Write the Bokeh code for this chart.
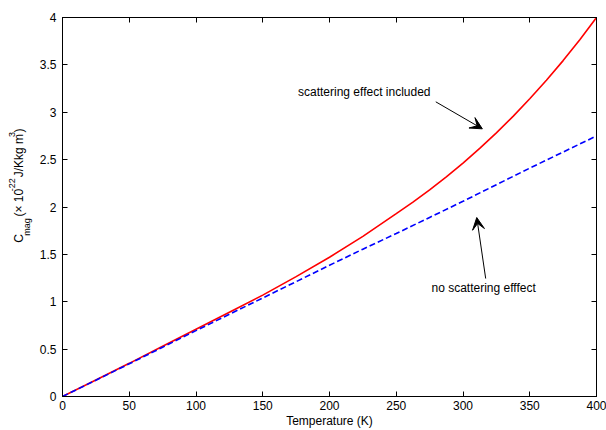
import math
from bokeh.plotting import figure
from bokeh.models import (Range1d, LinearAxis, FixedTicker, Label, Arrow, VeeHead)
from bokeh.layouts import row
from bokeh.embed import file_html
from bokeh.resources import INLINE

# ---- data ----
temperature = [0, 25, 50, 75, 100, 125, 150, 175, 200, 225, 250, 262.5, 275, 287.5, 300,
               312.5, 325, 337.5, 350, 362.5, 375, 387.5, 400]
c_mag_scattering = [0, 0.175, 0.35, 0.53, 0.71, 0.89, 1.07, 1.265, 1.47, 1.69, 1.93, 2.052,
                    2.181, 2.319, 2.464, 2.619, 2.783, 2.957, 3.142, 3.338, 3.545, 3.766, 4.0]
temperature_ns = [0, 25, 50, 75, 100, 125, 150, 175, 200, 225, 250, 275, 300, 325, 350, 375, 400]
c_mag_no_scattering = [0, 0.172, 0.345, 0.52, 0.695, 0.868, 1.04, 1.212, 1.385, 1.555, 1.72,
                       1.89, 2.06, 2.235, 2.41, 2.58, 2.75]

x_ticks = [0, 50, 100, 150, 200, 250, 300, 350, 400]
x_tick_labels = ["0", "50", "100", "150", "200", "250", "300", "350", "400"]
y_ticks = [0, 0.5, 1, 1.5, 2, 2.5, 3, 3.5, 4]
y_tick_labels = ["0", "0.5", "1", "1.5", "2", "2.5", "3", "3.5", "4"]

x_label = "Temperature (K)"
# y label pieces: (text, role) role: n=normal, sub=subscript, sup=superscript, gap=space
y_label_parts = [("C", "n"), ("mag", "sub"), (" ", "gap"), ("(\u00d7 10", "n"), ("-22", "sup"),
                 (" ", "gap"), ("J/Kkg m", "n"), ("3", "sup"), (")", "n")]

note_included = "scattering effect included"
note_none = "no scattering efffect"
# annotation anchor points in data units (T, C)
note_included_pos = (176.4, 3.21)
note_none_pos = (276.4, 1.147)
arrow_included = (279.6, 3.11, 314.5, 2.825)
arrow_none = (317.0, 1.245, 310.3, 1.889)

FONT = "Liberation Sans"
H = 430
LEFT_W = 36

# ---- main plot ----
p = figure(width=606 - LEFT_W, height=H, x_range=Range1d(0, 400), y_range=Range1d(0, 4),
           output_backend="svg", toolbar_location=None,
           min_border_left=61 - LEFT_W, min_border_right=10, min_border_top=17,
           min_border_bottom=34)
p.grid.visible = False
p.outline_line_color = "black"
p.outline_line_width = 1
p.background_fill_color = "white"
p.border_fill_color = "white"

p.add_layout(LinearAxis(), "above")
p.add_layout(LinearAxis(), "right")

xt = FixedTicker(ticks=x_ticks, minor_ticks=[])
yt = FixedTicker(ticks=y_ticks, minor_ticks=[])
for ax in p.xaxis:
    ax.ticker = xt
    ax.major_label_overrides = {t: l for t, l in zip(x_ticks, x_tick_labels)}
for ax in p.yaxis:
    ax.ticker = yt
    ax.major_label_overrides = {t: l for t, l in zip(y_ticks, y_tick_labels)}
for ax in list(p.xaxis) + list(p.yaxis):
    ax.major_tick_in = 5
    ax.major_tick_out = 0
    ax.minor_tick_in = 0
    ax.minor_tick_out = 0
    ax.axis_line_color = "black"
    ax.major_tick_line_color = "black"
    ax.major_label_text_font = FONT
    ax.major_label_text_font_size = "12px"
    ax.major_label_text_color = "black"

p.below[0].major_label_standoff = 4
p.below[0].axis_label = x_label
p.below[0].axis_label_text_font = FONT
p.below[0].axis_label_text_font_size = "12px"
p.below[0].axis_label_text_font_style = "normal"
p.below[0].axis_label_text_color = "black"
p.below[0].axis_label_standoff = 1
p.left[0].major_label_standoff = 6
for ax in (p.above[0], p.right[0]):
    ax.major_label_text_font_size = "0px"
    ax.major_label_standoff = 0
    ax.major_label_text_color = None

p.line(temperature, c_mag_scattering, line_color="#ff0000", line_width=1.6)
p.line(temperature_ns, c_mag_no_scattering, line_color="#0000ff", line_width=1.6, line_dash="6 3")

# annotations
p.add_layout(Label(x=note_included_pos[0], y=note_included_pos[1], text=note_included,
                   text_align="left", text_baseline="middle", text_font=FONT,
                   text_font_size="12px", text_color="black"))
p.add_layout(Label(x=note_none_pos[0], y=note_none_pos[1], text=note_none,
                   text_align="left", text_baseline="middle", text_font=FONT,
                   text_font_size="12px", text_color="black"))
for (x0, y0, x1, y1) in (arrow_included, arrow_none):
    p.add_layout(Arrow(end=VeeHead(size=12, fill_color="black", line_color="black", line_width=1),
                       x_start=x0, y_start=y0, x_end=x1, y_end=y1,
                       line_color="black", line_width=1))

# ---- narrow strip holding the rotated y label (pixel coordinates) ----
q = figure(width=LEFT_W, height=H, x_range=Range1d(0, LEFT_W), y_range=Range1d(0, H),
           output_backend="svg", toolbar_location=None, x_axis_location=None,
           y_axis_location=None, min_border_left=0, min_border_right=0, min_border_top=0,
           min_border_bottom=0)
q.grid.visible = False
q.outline_line_color = None
q.background_fill_color = "white"
q.border_fill_color = "white"

adv = {" ": 0.278, "(": 0.333, ")": 0.333, "\u00d7": 0.584, "-": 0.333, "/": 0.278,
       "C": 0.722, "J": 0.5, "K": 0.667, "a": 0.556, "g": 0.556, "k": 0.5, "m": 0.833}
def width(s, size):
    return sum(adv.get(ch, 0.556) for ch in s) * size

center_x = {"n": 18.0, "sub": 26.0, "sup": 11.0}
pos = H - 255
for txt, role in y_label_parts:
    if role == "gap":
        pos += width(txt, 12) + 1.5
        continue
    size = 12 if role == "n" else 9
    w = width(txt, size)
    q.add_layout(Label(x=center_x[role], y=pos + w / 2, text=txt, angle=math.pi / 2,
                       text_align="center", text_baseline="middle", text_font=FONT,
                       text_font_size=f"{size}px", text_color="black"))
    pos += w

layout = row(q, p, spacing=0)
open("out.html", "w").write(file_html(layout, INLINE))
